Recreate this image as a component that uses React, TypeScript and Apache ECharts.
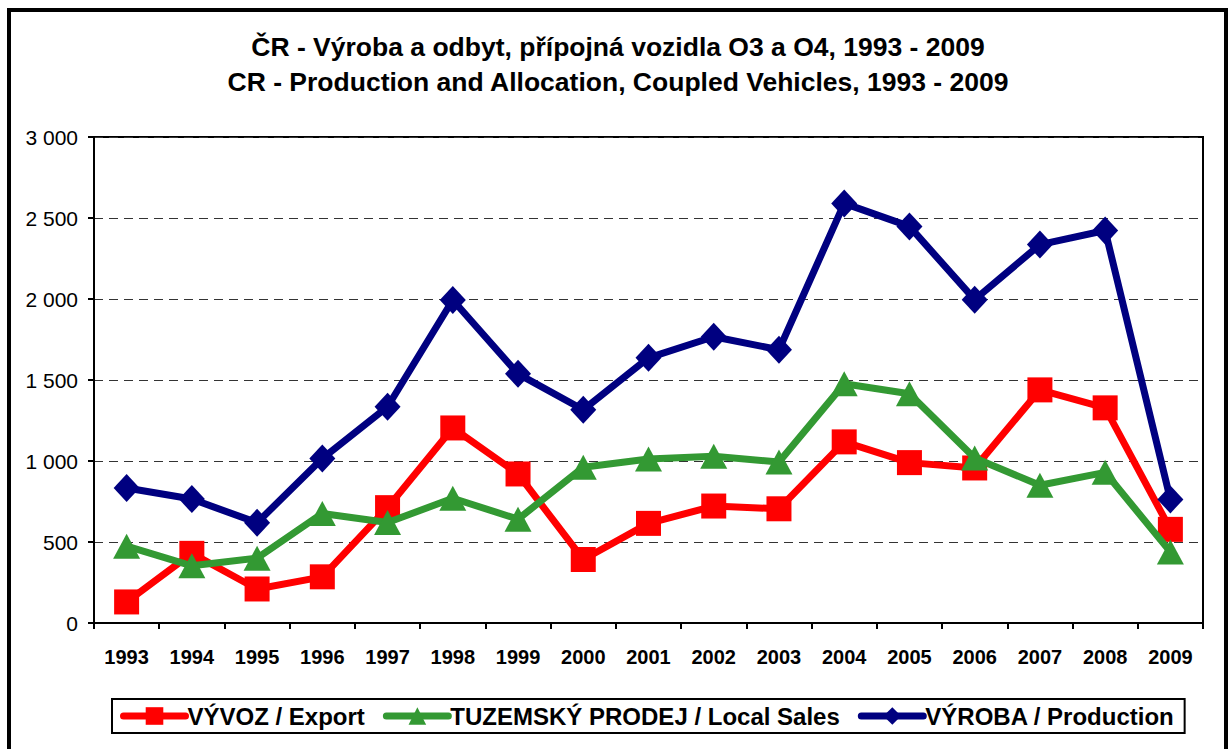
import React, { useEffect, useRef } from "react";
import * as echarts from "echarts";

const years = ["1993","1994","1995","1996","1997","1998","1999","2000","2001","2002","2003","2004","2005","2006","2007","2008","2009"];
const exportVals = [130, 430, 210, 285, 712, 1204, 920, 392, 615, 722, 705, 1118, 990, 957, 1439, 1328, 578];
const localSales = [474, 353, 400, 676, 620, 770, 641, 961, 1012, 1029, 994, 1477, 1415, 1018, 850, 930, 439];
const production = [833, 765, 619, 1015, 1335, 1994, 1538, 1316, 1637, 1767, 1687, 2590, 2448, 1996, 2336, 2423, 763];
const yTicks = [0, 500, 1000, 1500, 2000, 2500, 3000];
const titleLines = [
  "ČR - Výroba a odbyt, přípojná vozidla O3 a O4, 1993 - 2009",
  "CR - Production and Allocation, Coupled Vehicles, 1993 - 2009",
];

const FONT = "'Liberation Sans', Arial, sans-serif";

export default function App() {
  const ref = useRef<HTMLDivElement>(null);
  useEffect(() => {
    if (!ref.current) return;
    const chart = echarts.init(ref.current, null, { renderer: "svg" });
    const fmt = (v: number) => String(v).replace(/\B(?=(\d{3})+(?!\d))/g, " ");
    chart.setOption({
      animation: false,
      backgroundColor: "#fff",
      textStyle: { fontFamily: FONT },
      graphic: [
        {
          type: "rect",
          shape: { x: 9, y: 10, width: 1217, height: 800 },
          style: { fill: "none", stroke: "#000", lineWidth: 4 },
          silent: true,
        },
        ...titleLines.map((t, i) => ({
          type: "text",
          x: 618,
          y: 47 + i * 35,
          style: {
            text: t,
            fontFamily: FONT,
            fontSize: 26.5,
            fontWeight: "bold",
            fill: "#000",
            align: "center",
            verticalAlign: "middle",
          },
          silent: true,
        })),
      ],
      legend: {
        bottom: 16,
        left: 112,
        itemWidth: 62,
        itemHeight: 22,
        itemGap: 18,
        borderColor: "#000",
        borderWidth: 2,
        padding: [5, 10, 5, 8],
        lineStyle: { width: 7, cap: "round" },
        textStyle: { fontFamily: FONT, fontSize: 24, fontWeight: "bold", color: "#000", padding: [0, 0, 0, -3] },
        data: ["VÝVOZ / Export", "TUZEMSKÝ PRODEJ / Local Sales", "VÝROBA / Production"],
      },
      grid: {
        left: 94,
        right: 25,
        top: 137,
        bottom: 126,
        show: true,
        borderColor: "#000",
        borderWidth: 2,
        backgroundColor: "transparent",
      },
      xAxis: {
        type: "category",
        data: years,
        boundaryGap: true,
        axisLine: { lineStyle: { color: "#000", width: 2 } },
        axisTick: { show: true, length: 6, alignWithLabel: false, lineStyle: { color: "#000", width: 2 } },
        axisLabel: { margin: 24, fontFamily: FONT, fontSize: 20, fontWeight: "bold", color: "#000" },
      },
      yAxis: {
        type: "value",
        min: yTicks[0],
        max: yTicks[yTicks.length - 1],
        interval: 500,
        axisLine: { show: true, lineStyle: { color: "#000", width: 2 } },
        axisTick: { show: true, length: 6, lineStyle: { color: "#000", width: 2 } },
        axisLabel: { margin: 16, fontFamily: FONT, fontSize: 21, color: "#000", formatter: fmt },
        splitLine: { show: true, lineStyle: { color: "#333", width: 1, type: [9, 6] } },
      },
      series: [
        {
          name: "VÝVOZ / Export",
          type: "line",
          data: exportVals,
          color: "#FF0000",
          symbol: "rect",
          symbolSize: 25,
          lineStyle: { width: 7, color: "#FF0000" },
          itemStyle: { color: "#FF0000" },
          z: 3,
        },
        {
          name: "TUZEMSKÝ PRODEJ / Local Sales",
          type: "line",
          data: localSales,
          color: "#339933",
          symbol: "triangle",
          symbolSize: [27, 25],
          lineStyle: { width: 7, color: "#339933" },
          itemStyle: { color: "#339933" },
          z: 4,
        },
        {
          name: "VÝROBA / Production",
          type: "line",
          data: production,
          color: "#000080",
          symbol: "diamond",
          symbolSize: [26, 28],
          lineStyle: { width: 7, color: "#000080" },
          itemStyle: { color: "#000080" },
          z: 5,
        },
      ],
    });
    return () => chart.dispose();
  }, []);
  return <div ref={ref} style={{ position: "absolute", left: 0, top: 0, width: 1228, height: 749 }} />;
}
